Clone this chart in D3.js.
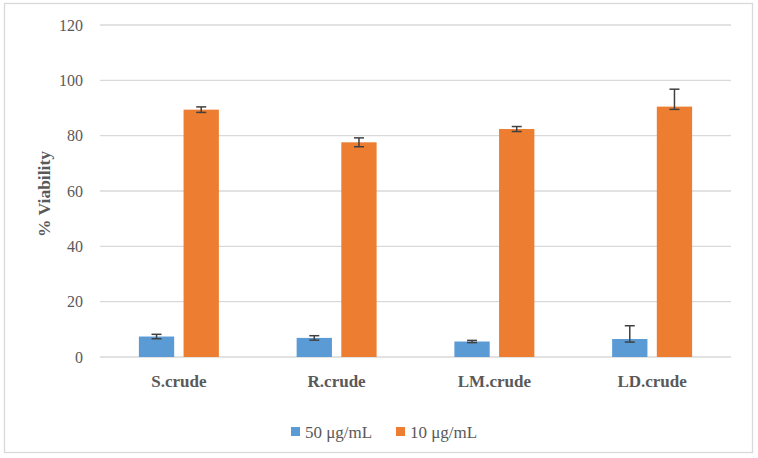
<!DOCTYPE html>
<html>
<head>
<meta charset="utf-8">
<script src="https://cdn.jsdelivr.net/npm/d3@7"></script>
<style>
  body { margin: 0; background: #fff; }
  svg text { font-family: "Liberation Serif", "DejaVu Serif", serif; }
</style>
</head>
<body>
<div id="chart"></div>
<script>
// Data
const categories = ["S.crude", "R.crude", "LM.crude", "LD.crude"];
const seriesNames = ["50 μg/mL", "10 μg/mL"];
const values50 = [7.4, 6.9, 5.6, 6.5];
const values10 = [89.4, 77.6, 82.4, 90.5];
const errPlus50 = [0.8, 0.8, 0.4, 4.8];
const errMinus50 = [0.8, 0.8, 0.4, 1.1];
const errPlus10 = [1.0, 1.6, 0.9, 6.3];
const errMinus10 = [1.0, 1.6, 0.9, 1.0];
const yTicks = [0, 20, 40, 60, 80, 100, 120];

const colors = ["#5B9BD5", "#ED7D31"];
const width = 758, height = 458;
const margin = { top: 25, right: 27, bottom: 101, left: 100 };
const fontFamily = "'Liberation Serif', 'DejaVu Serif', serif";

const svg = d3.select("#chart").append("svg")
  .attr("width", width)
  .attr("height", height)
  .attr("font-family", fontFamily);

// chart border
svg.append("rect")
  .attr("x", 4.5).attr("y", 3.5)
  .attr("width", 748).attr("height", 449)
  .attr("fill", "none")
  .attr("stroke", "#d9d9d9")
  .attr("stroke-width", 1.3);

const x0 = d3.scaleBand()
  .domain(categories)
  .range([margin.left, width - margin.right])
  .paddingInner(0.493)
  .paddingOuter(0.2465);

const x1 = d3.scaleBand()
  .domain(seriesNames)
  .range([0, x0.bandwidth()])
  .paddingInner(0.21);

const y = d3.scaleLinear()
  .domain([0, 120])
  .range([height - margin.bottom, margin.top]);

// gridlines
svg.append("g")
  .selectAll("line")
  .data(yTicks)
  .join("line")
  .attr("x1", margin.left)
  .attr("x2", width - margin.right)
  .attr("y1", d => y(d))
  .attr("y2", d => y(d))
  .attr("stroke", "#d9d9d9")
  .attr("stroke-width", 1.3);

// y tick labels
svg.append("g")
  .selectAll("text")
  .data(yTicks)
  .join("text")
  .attr("x", 83)
  .attr("y", d => y(d))
  .attr("dy", "0.35em")
  .attr("text-anchor", "end")
  .attr("fill", "#595959")
  .attr("font-size", 16)
  .text(d => d);

// y title
svg.append("text")
  .attr("transform", `translate(50,${(y(0) + y(120)) / 2 + 3}) rotate(-90)`)
  .attr("text-anchor", "middle")
  .attr("fill", "#595959")
  .attr("font-size", 17.5)
  .attr("font-weight", "bold")
  .text("% Viability");

// bars
const rows = categories.map((c, i) => ({
  cat: c,
  items: [
    { s: seriesNames[0], v: values50[i], ep: errPlus50[i], em: errMinus50[i], color: colors[0] },
    { s: seriesNames[1], v: values10[i], ep: errPlus10[i], em: errMinus10[i], color: colors[1] }
  ]
}));

const groups = svg.append("g")
  .selectAll("g")
  .data(rows)
  .join("g")
  .attr("transform", d => `translate(${x0(d.cat)},0)`);

groups.selectAll("rect")
  .data(d => d.items)
  .join("rect")
  .attr("x", d => x1(d.s))
  .attr("y", d => y(d.v))
  .attr("width", x1.bandwidth())
  .attr("height", d => y(0) - y(d.v))
  .attr("fill", d => d.color);

// error bars
const eb = groups.selectAll("g.err")
  .data(d => d.items)
  .join("g")
  .attr("class", "err")
  .attr("stroke", "#404040")
  .attr("stroke-width", 1.5);

const cx = d => x1(d.s) + x1.bandwidth() / 2;
eb.append("line")
  .attr("x1", cx).attr("x2", cx)
  .attr("y1", d => y(d.v + d.ep))
  .attr("y2", d => y(d.v - d.em));
eb.append("line")
  .attr("x1", d => cx(d) - 5).attr("x2", d => cx(d) + 5)
  .attr("y1", d => y(d.v + d.ep)).attr("y2", d => y(d.v + d.ep));
eb.append("line")
  .attr("x1", d => cx(d) - 5).attr("x2", d => cx(d) + 5)
  .attr("y1", d => y(d.v - d.em)).attr("y2", d => y(d.v - d.em));

// category labels
svg.append("g")
  .selectAll("text")
  .data(categories)
  .join("text")
  .attr("x", d => x0(d) + x0.bandwidth() / 2)
  .attr("y", 387)
  .attr("text-anchor", "middle")
  .attr("fill", "#595959")
  .attr("font-size", 17)
  .attr("font-weight", "bold")
  .text(d => d);

// legend
const legendX = [291, 396];
const legend = svg.append("g")
  .selectAll("g")
  .data(seriesNames)
  .join("g")
  .attr("transform", (d, i) => `translate(${legendX[i]},432)`);

legend.append("rect")
  .attr("x", 0).attr("y", -5)
  .attr("width", 9).attr("height", 9)
  .attr("fill", (d, i) => colors[i]);

legend.append("text")
  .attr("x", 14)
  .attr("dy", "0.35em")
  .attr("fill", "#595959")
  .attr("font-size", 17)
  .text(d => d);
</script>
</body>
</html>
